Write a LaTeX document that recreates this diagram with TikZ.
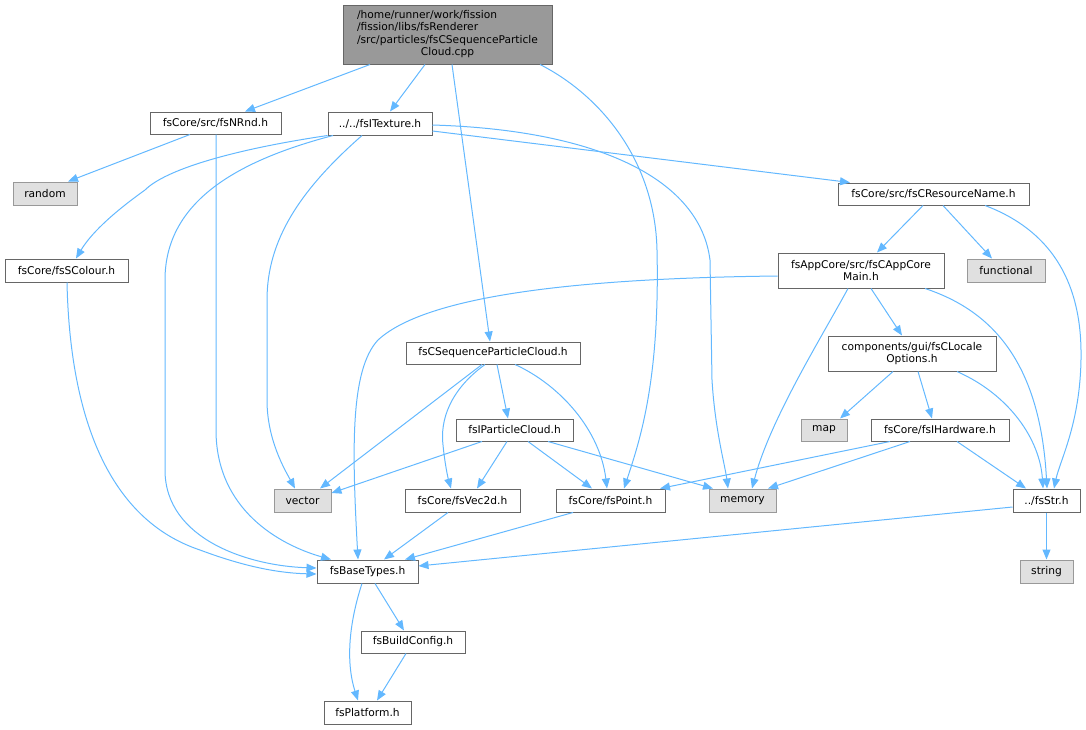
\documentclass[tikz,border=0pt]{standalone}
\usepackage{fontspec}
\setmainfont{DejaVu Sans}
\usetikzlibrary{arrows.meta}
\definecolor{edgec}{HTML}{63B8FF}
\definecolor{bord}{HTML}{666666}
\definecolor{extfill}{HTML}{E0E0E0}
\definecolor{extbord}{HTML}{999999}
\definecolor{rootfill}{HTML}{999999}
\begin{document}
\begin{tikzpicture}[x=0.75pt,y=-0.75pt,
  box/.style={draw=bord, fill=white, line width=0.75pt, inner sep=0pt, font=\fontsize{8}{9.4}\selectfont, align=center},
  ext/.style={box, draw=extbord, fill=extfill},
  rootn/.style={box, fill=rootfill},
  wh/.style 2 args={minimum width=#1*0.75pt, minimum height=#2*0.75pt},
  edge/.style={draw=edgec, line width=0.75pt, -{Triangle[length=7.5pt,width=6pt]}}]
\useasboundingbox (0,0) rectangle (1086,729);
% nodes
\node[rootn, wh={209}{59}] (root) at (447.5,34.5) {\begin{tabular}{@{}l@{}}/home/runner/work/fission\\/fission/libs/fsRenderer\\/src/particles/fsCSequenceParticle\\\multicolumn{1}{@{}c@{}}{Cloud.cpp}\end{tabular}};
\node[box, wh={131}{22}] (nrnd) at (215.5,123) {fsCore/src/fsNRnd.h};
\node[box, wh={104}{23}] (itex) at (380,123.5) {../../fsITexture.h};
\node[ext, wh={64}{23}] (random) at (45,193.5) {random};
\node[box, wh={123}{23}] (scol) at (66.5,270.5) {fsCore/fsSColour.h};
\node[box, wh={191}{22}] (resname) at (933.5,194) {fsCore/src/fsCResourceName.h};
\node[box, wh={166}{35}] (appcore) at (861,270.5) {fsAppCore/src/fsCAppCore\\Main.h};
\node[ext, wh={78}{23}] (functional) at (1006,270.5) {functional};
\node[box, wh={174}{22}] (cseq) at (493,353) {fsCSequenceParticleCloud.h};
\node[box, wh={168}{35}] (locale) at (912,353.5) {components/gui/fsCLocale\\Options.h};
\node[box, wh={117}{22}] (ipc) at (514.5,430) {fsIParticleCloud.h};
\node[ext, wh={46}{22}] (map) at (824,430) {map};
\node[box, wh={138}{22}] (hw) at (940,430) {fsCore/fsIHardware.h};
\node[ext, wh={57}{23}] (vector) at (302.5,500.5) {vector};
\node[box, wh={115}{23}] (vec2d) at (462.5,500.5) {fsCore/fsVec2d.h};
\node[box, wh={109}{23}] (point) at (610.5,500.5) {fsCore/fsPoint.h};
\node[ext, wh={67}{23}] (memory) at (742.5,500.5) {memory};
\node[box, wh={67}{23}] (str) at (1046.5,500.5) {../fsStr.h};
\node[box, wh={101}{23}] (base) at (367.5,571.5) {fsBaseTypes.h};
\node[ext, wh={53}{23}] (string) at (1046.5,571.5) {string};
\node[box, wh={104}{22}] (build) at (413,642) {fsBuildConfig.h};
\node[box, wh={87}{23}] (platform) at (367.5,712.5) {fsPlatform.h};
% edges
\draw[edge] (370,0 |- root.south) -- (245,0 |- nrnd.north);
\draw[edge] (425,0 |- root.south) -- (390,0 |- itex.north);
\draw[edge] (452,0 |- root.south) -- (490,0 |- cseq.north);
\draw[edge] (540,0 |- root.south) .. controls (600,95) and (655,160) .. (657,250) .. controls (660,380) and (640,440) .. (624,0 |- point.north);
\draw[edge] (190,0 |- nrnd.south) -- (68,0 |- random.north);
\draw[edge] (216,0 |- nrnd.south) -- (216,430) .. controls (216,510) and (280,545) .. (331,0 |- base.north);
\draw[edge] (itex.south west) .. controls (230,150) and (165,170) .. (145,190) .. controls (110,215) and (90,235) .. (76,0 |- scol.north);
\draw[edge] (333,0 |- itex.south) .. controls (240,160) and (165,200) .. (165,280) -- (165,470) .. controls (165,540) and (250,566) .. (base.west |- 0,568);
\draw[edge] (67,0 |- scol.south) .. controls (70,420) and (110,520) .. (200,550) .. controls (240,565) and (275,573) .. (base.west |- 0,574);
\draw[edge] (362,0 |- itex.south) .. controls (300,190) and (267,240) .. (267,300) -- (267,400) .. controls (267,440) and (285,470) .. (295,0 |- vector.north);
\draw[edge] (itex.east |- 0,125) .. controls (600,130) and (700,180) .. (710,260) -- (712,380) .. controls (715,430) and (725,465) .. (728,0 |- memory.north);
\draw[edge] (itex.east |- 0,131) -- (850,0 |- resname.north);
\draw[edge] (923,0 |- resname.south) -- (877,0 |- appcore.north);
\draw[edge] (943,0 |- resname.south) -- (992,0 |- functional.north);
\draw[edge] (985,0 |- resname.south) .. controls (1050,230) and (1080,280) .. (1081,350) .. controls (1082,420) and (1060,460) .. (1054,0 |- str.north);
\draw[edge] (appcore.west |- 0,276) .. controls (600,278) and (430,292) .. (378,340) .. controls (350,370) and (352,450) .. (358,0 |- base.north);
\draw[edge] (848,0 |- appcore.south) .. controls (820,340) and (770,420) .. (752,0 |- memory.north);
\draw[edge] (871,0 |- appcore.south) -- (902,0 |- locale.north);
\draw[edge] (925,0 |- appcore.south) .. controls (990,310) and (1040,360) .. (1047,0 |- str.north);
\draw[edge] (893,0 |- locale.south) -- (840,0 |- map.north);
\draw[edge] (918,0 |- locale.south) -- (932,0 |- hw.north);
\draw[edge] (957,0 |- locale.south) .. controls (1010,395) and (1040,440) .. (1043,0 |- str.north);
\draw[edge] (890,0 |- hw.south) -- (660,0 |- point.north);
\draw[edge] (910,0 |- hw.south) -- (768,0 |- memory.north);
\draw[edge] (957,0 |- hw.south) -- (1026,0 |- str.north);
\draw[edge] (482,0 |- cseq.south) -- (320,0 |- vector.north);
\draw[edge] (485,0 |- cseq.south) .. controls (450,390) and (440,420) .. (443,445) .. controls (445,465) and (448,478) .. (451,0 |- vec2d.north);
\draw[edge] (497,0 |- cseq.south) -- (508,0 |- ipc.north);
\draw[edge] (515,0 |- cseq.south) .. controls (560,385) and (600,430) .. (607,0 |- point.north);
\draw[edge] (482,0 |- ipc.south) -- (vector.east |- 0,493);
\draw[edge] (507,0 |- ipc.south) -- (477,0 |- vec2d.north);
\draw[edge] (528,0 |- ipc.south) -- (592,0 |- point.north);
\draw[edge] (548,0 |- ipc.south) -- (713,0 |- memory.north);
\draw[edge] (448,0 |- vec2d.south) -- (384,0 |- base.north);
\draw[edge] (573,0 |- point.south) -- (405,0 |- base.north);
\draw[edge] (str.west |- 0,507) -- (base.east |- 0,566);
\draw[edge] (str.south) -- (string.north);
\draw[edge] (375,0 |- base.south) -- (404,0 |- build.north);
\draw[edge] (362,0 |- base.south) .. controls (350,620) and (345,660) .. (358,0 |- platform.north);
\draw[edge] (406,0 |- build.south) -- (377,0 |- platform.north);
\end{tikzpicture}
\end{document}
